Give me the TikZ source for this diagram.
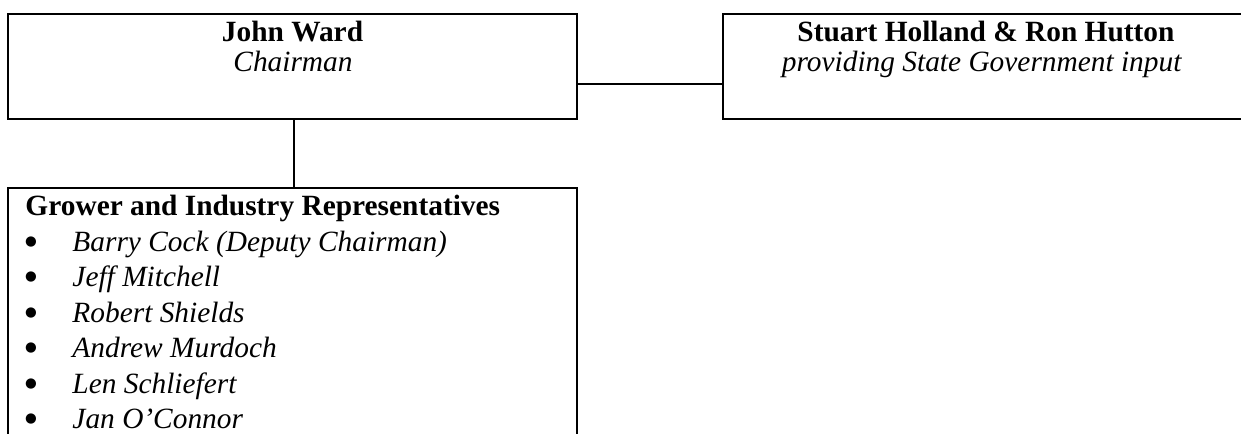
\documentclass[tikz,border=0pt]{standalone}
\usepackage{fontspec}
\setmainfont{Liberation Serif}
\newfontfamily\symfont{DejaVu Sans}
\usetikzlibrary{fit}
\begin{document}
\begin{tikzpicture}[x=0.4085pt,y=-0.4085pt,
  box/.style={draw, rectangle, inner sep=0pt, line width=0.8pt},
  link/.style={draw, line width=0.8pt},
  txt/.style={anchor=base, inner sep=0pt, font=\fontsize{12}{14}\selectfont},
  ltxt/.style={txt, anchor=base west},
  bul/.style={anchor=center, inner sep=0pt, font=\symfont\fontsize{5.5}{6}\selectfont}]
\useasboundingbox (0,0) rectangle (1241,433);
\clip (0,0) rectangle (1241,433);
% boxes
\node[box, fit={(8,14) (577,119)}] (chair) {};
\node[box, fit={(723,14) (1251,119)}] (gov) {};
\node[box, fit={(8,188) (577,480)}] (reps) {};
% connectors
\coordinate (hc) at (650,84);
\coordinate (vc) at (294,150);
\draw[link] (chair.east |- hc) -- (gov.west |- hc);
\draw[link] (chair.south -| vc) -- (reps.north -| vc);
% texts
\node[txt] (t1) at (292.5,41) {\textbf{John Ward}};
\node[txt] (t2) at (293,71) {\textit{Chairman}};
\node[txt] (t3) at (986,41) {\textbf{Stuart Holland \& Ron Hutton}};
\node[txt] (t4) at (982,71) {\textit{providing State Government input}};
\node[ltxt] (t5) at (25,215) {\textbf{Grower and Industry Representatives}};
\node[bul] (b1) at (31,242) {●};
\node[bul] (b2) at (31,277) {●};
\node[bul] (b3) at (31,313) {●};
\node[bul] (b4) at (31,348) {●};
\node[bul] (b5) at (31,384) {●};
\node[bul] (b6) at (31,419) {●};
\node[ltxt] (i1) at (72,251) {\textit{Barry Cock (Deputy Chairman)}};
\node[ltxt] (i2) at (72,286) {\textit{Jeff Mitchell}};
\node[ltxt] (i3) at (72,322) {\textit{Robert Shields}};
\node[ltxt] (i4) at (72,357) {\textit{Andrew Murdoch}};
\node[ltxt] (i5) at (72,393) {\textit{Len Schliefert}};
\node[ltxt] (i6) at (72,428) {\textit{Jan O’Connor}};
\end{tikzpicture}
\end{document}
